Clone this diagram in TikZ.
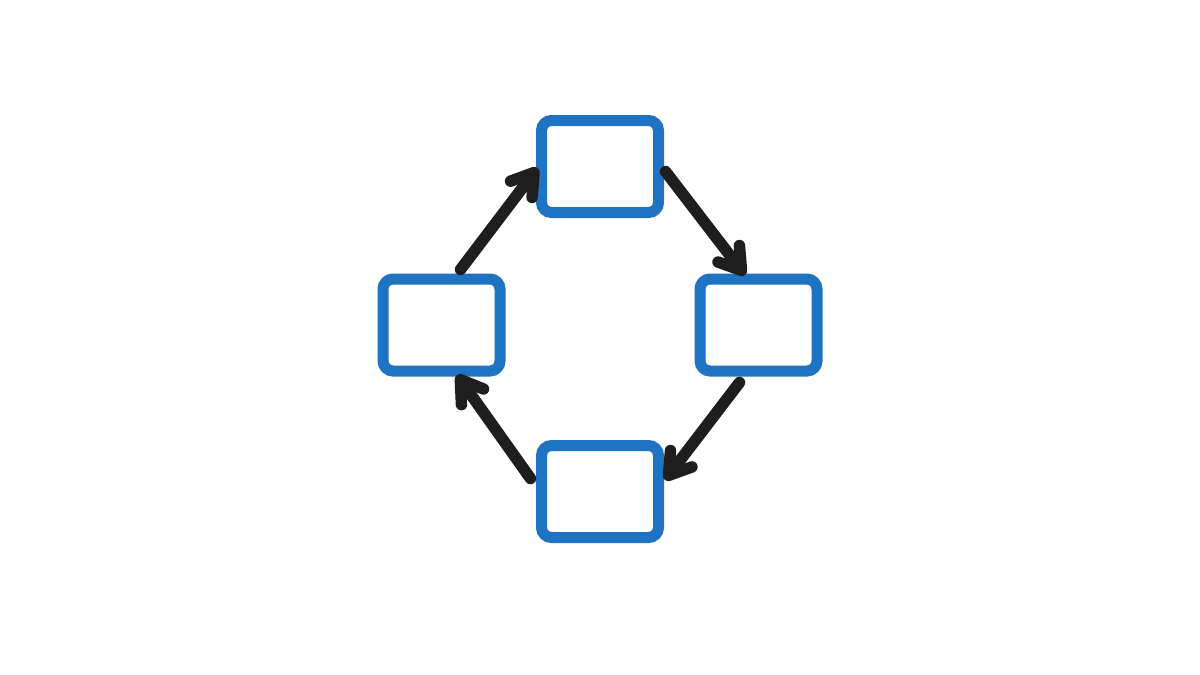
\documentclass[tikz,border=0pt]{standalone}
\usetikzlibrary{arrows.meta,calc}
\definecolor{boxblue}{RGB}{30,115,195}
\definecolor{arrowdark}{RGB}{30,30,30}
\begin{document}
\begin{tikzpicture}[x=1pt,y=-1pt,
  stepbox/.style={draw=boxblue,line width=11pt,rounded corners=10pt,
    minimum width=117pt,minimum height=92pt,inner sep=0pt,outer sep=0pt,fill=white},
  flowarrow/.style={draw=arrowdark,line width=11.5pt,line cap=round,line join=round,
    -{Straight Barb[length=21pt,width=27pt,round]}}]
\useasboundingbox (0,0) rectangle (1200,675);
\fill[white] (0,0) rectangle (1200,675);
\node[stepbox] (T) at (600,166.5) {};
\node[stepbox] (L) at (441.5,325) {};
\node[stepbox] (R) at (758.5,325) {};
\node[stepbox] (B) at (600,491.5) {};
\draw[flowarrow] ($(L.north)+(19,-9.5)$) -- ($(T.west)+(-4,1.5)$);
\draw[flowarrow] ($(T.east)+(7,5)$) -- ($(R.north)+(-13.5,-4)$);
\draw[flowarrow] ($(R.south)+(-19,11.5)$) -- ($(B.east)+(6.5,-11.5)$);
\draw[flowarrow] ($(B.west)+(-11,-13)$) -- ($(L.south)+(15.5,4)$);
\end{tikzpicture}
\end{document}
